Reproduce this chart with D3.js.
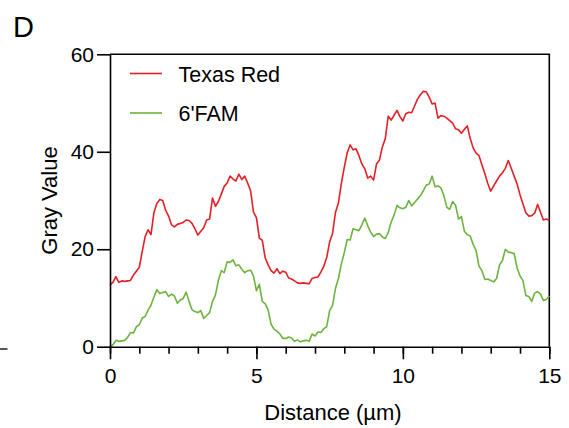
<!DOCTYPE html>
<html>
<head>
<meta charset="utf-8">
<script src="https://cdn.jsdelivr.net/npm/d3@7/dist/d3.min.js"></script>
<style>
body { margin: 0; background: #fff; }
svg { font-family: 'Liberation Sans', Arial, sans-serif; }
.axis path, .axis line { stroke: #000; stroke-width: 1.6; }
.axis text { font-size: 21px; fill: #000; }
.line-plot { fill: none; stroke-width: 1.6; stroke-linejoin: round; }
</style>
</head>
<body>
<svg width="569" height="428"></svg>
<script>
// profile sampled every 0.1 um, 0 .. 15
var step = 0.1;

var texasRed = [
    12.7, 13.2, 14.4, 13.2, 13.5, 13.4, 13.5, 13.6, 14.7, 15.5,
    16.3, 19.5, 22.6, 24.0, 23.0, 27.5, 29.4, 30.2, 30.0, 28.0,
    26.8, 25.0, 24.6, 25.1, 25.3, 25.5, 26.0, 25.9, 25.3, 24.2,
    22.9, 23.7, 24.4, 26.0, 26.2, 30.5, 28.8, 29.8, 31.3, 32.9,
    33.6, 35.0, 34.4, 34.0, 35.4, 34.3, 35.0, 33.6, 32.0, 27.6,
    26.5, 22.3, 21.8, 18.2, 16.8, 15.6, 15.1, 16.0, 15.0, 15.5,
    15.3, 14.1, 13.9, 13.5, 13.1, 13.0, 13.1, 13.0, 12.9, 14.0,
    14.2, 14.3, 15.3, 16.5, 18.3, 21.5, 23.3, 27.6, 29.5, 33.5,
    36.8, 39.8, 41.4, 40.4, 40.6, 39.2, 37.5, 36.5, 34.6, 35.0,
    34.2, 37.5, 38.3, 41.0, 42.7, 47.3, 46.5, 47.5, 48.5, 47.2,
    46.3, 47.8, 48.1, 48.0, 49.4, 50.8, 51.7, 52.4, 52.3, 51.2,
    49.8, 50.0, 46.9, 47.4, 47.3, 46.9, 46.4, 45.9, 44.7, 44.5,
    43.8, 44.6, 45.3, 42.7, 40.8, 39.7, 39.2, 37.3, 35.5, 33.5,
    31.9, 33.0, 34.0, 35.0, 35.7, 36.6, 38.2, 36.6, 35.0, 33.4,
    31.2, 29.3, 27.5, 26.8, 26.9, 27.4, 29.2, 27.6, 26.0, 26.2,
    25.9
];

var fam = [
    0.0, 0.4, 1.3, 1.1, 1.2, 1.3, 1.9, 2.9, 2.8, 4.1,
    4.5, 5.9, 6.2, 7.5, 8.5, 10.2, 11.7, 10.9, 11.1, 11.3,
    10.3, 10.8, 10.4, 8.9, 9.6, 9.9, 11.2, 9.3, 7.6, 7.2,
    7.0, 7.4, 5.8, 6.4, 7.0, 9.3, 10.6, 13.6, 15.6, 15.2,
    17.4, 17.3, 17.8, 16.6, 16.8, 15.9, 15.2, 15.6, 15.7, 14.5,
    11.5, 12.8, 9.3, 8.8, 7.5, 4.6, 3.6, 3.2, 2.6, 1.7,
    1.7, 2.0, 1.8, 1.1, 1.4, 1.0, 1.2, 1.3, 1.1, 2.6,
    2.2, 3.0, 2.9, 3.7, 4.1, 7.4, 8.5, 12.0, 14.0, 17.0,
    19.3, 22.0, 21.9, 24.2, 24.0, 23.8, 25.0, 26.4, 24.8, 23.5,
    22.6, 23.1, 23.2, 22.5, 22.2, 23.4, 25.6, 27.0, 29.0, 28.5,
    28.3, 28.6, 30.0, 28.9, 29.6, 30.3, 31.0, 32.0, 33.2, 33.4,
    35.0, 32.8, 33.0, 32.6, 31.0, 28.6, 28.2, 29.8, 29.0, 26.2,
    26.7, 23.7, 23.0, 22.7, 21.0, 19.7, 16.5, 15.6, 13.8, 13.9,
    13.6, 13.3, 14.0, 16.8, 17.7, 20.0, 19.4, 19.3, 19.1, 16.2,
    14.5, 13.6, 10.5, 10.3, 9.3, 11.0, 11.3, 10.8, 9.5, 9.7,
    10.4
];

var seriesNames = ['Texas Red', "6'FAM"];
var seriesColors = ['#e41f26', '#6cb33f'];
var xMajorTicks = [0, 5, 10, 15];
var xMinorTicks = [0, 1, 2, 3, 4, 5, 6, 7, 8, 9, 10, 11, 12, 13, 14, 15];
var yTicks = [0, 20, 40, 60];

var svg = d3.select('svg');
var plot = {l: 110, r: 549.3, t: 54.3, b: 346.7};

var xScale = d3.scaleLinear().domain([0, 15]).range([plot.l, plot.r]);
var yScale = d3.scaleLinear().domain([0, 60]).range([plot.b, plot.t]);

// frame (top + right)
svg.append('path')
    .attr('d', 'M' + plot.l + ',' + plot.t + 'H' + plot.r + 'V' + plot.b)
    .attr('fill', 'none')
    .attr('stroke', '#000')
    .attr('stroke-width', 1.6);

// lines
var line = d3.line()
    .x((d, i) => xScale(i * step))
    .y(d => yScale(d));

[texasRed, fam].forEach(function(vals, k) {
    svg.append('path')
        .datum(vals)
        .attr('class', 'line-plot')
        .attr('d', line)
        .style('stroke', seriesColors[k]);
});

// x axis: minor + major ticks
svg.append('g')
    .attr('class', 'x axis')
    .attr('transform', 'translate(0,' + plot.b + ')')
    .call(d3.axisBottom(xScale).tickValues(xMinorTicks).tickSize(7).tickSizeOuter(0).tickFormat(''))
    .select('.domain').remove();

svg.append('g')
    .attr('class', 'x axis')
    .attr('transform', 'translate(0,' + plot.b + ')')
    .call(d3.axisBottom(xScale).tickValues(xMajorTicks).tickSize(12.6).tickSizeOuter(0).tickPadding(9));

// y axis
svg.append('g')
    .attr('class', 'y axis')
    .attr('transform', 'translate(' + plot.l + ',0)')
    .call(d3.axisLeft(yScale).tickValues(yTicks).tickSize(13).tickSizeOuter(0).tickPadding(3));

// axis labels
svg.append('text')
    .attr('x', 333)
    .attr('y', 420)
    .attr('text-anchor', 'middle')
    .attr('font-size', 22)
    .text('Distance (\u00b5m)');

svg.append('text')
    .attr('transform', 'translate(56.5,' + ((plot.t + plot.b) / 2) + ') rotate(-90)')
    .attr('text-anchor', 'middle')
    .attr('font-size', 22)
    .text('Gray Value');

// panel letter
svg.append('text')
    .attr('x', 13)
    .attr('y', 36.5)
    .attr('font-size', 29)
    .text('D');

// stray tick at the left edge
svg.append('line')
    .attr('x1', 0).attr('x2', 7.5)
    .attr('y1', 349).attr('y2', 349)
    .attr('stroke', '#000')
    .attr('stroke-width', 1.3);

// legend
var legend = svg.selectAll('.legend')
    .data(seriesNames)
    .enter()
    .append('g')
    .attr('class', 'legend')
    .attr('transform', (d, i) => 'translate(130,' + (73.5 + i * 39.5) + ')');

legend.append('line')
    .attr('x1', 0).attr('x2', 32)
    .attr('stroke', (d, i) => seriesColors[i])
    .attr('stroke-width', 1.6);

legend.append('text')
    .attr('x', 48.5)
    .attr('y', 8)
    .attr('font-size', 21.5)
    .text(d => d);
</script>
</body>
</html>
